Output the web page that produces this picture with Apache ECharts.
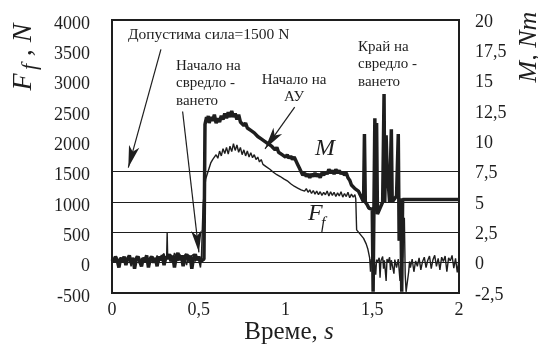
<!DOCTYPE html>
<html>
<head>
<meta charset="utf-8">
<script src="https://cdn.jsdelivr.net/npm/echarts@6/dist/echarts.min.js"></script>
<style>
  html, body { margin: 0; padding: 0; background: #fff; }
  #chart { width: 538px; height: 345px; }
</style>
</head>
<body>
<div id="chart"></div>
<script>
// time in s, force in N
const forceIdle = [[0, 40], [0.01, 80], [0.02, 10], [0.03, 60], [0.04, -40], [0.05, 90], [0.06, 30], [0.07, 70], [0.08, 0], [0.09, 100], [0.10, 50], [0.11, -60], [0.12, 80], [0.13, 20], [0.14, 110], [0.15, 40], [0.16, -20], [0.17, 70], [0.18, 90], [0.19, 10], [0.20, 60], [0.21, -50], [0.22, 100], [0.23, 30], [0.24, 80], [0.25, 40], [0.26, 120], [0.27, 0], [0.28, 90], [0.29, 60], [0.30, 150], [0.31, 20], [0.315, 110], [0.318, 500], [0.321, 90], [0.33, 70], [0.34, 130], [0.35, 40], [0.36, 160], [0.37, 90], [0.38, 30], [0.39, 140], [0.40, 80], [0.41, 120], [0.42, 50], [0.43, -40], [0.44, 130], [0.45, 90], [0.46, 60], [0.47, 140], [0.48, 20], [0.49, 100], [0.50, 40], [0.51, -80], [0.515, 60]]
const forceCut = [[0.52, 500], [0.525, 950], [0.53, 1100], [0.535, 1250], [0.54, 1380], [0.55, 1470], [0.56, 1560], [0.57, 1650], [0.58, 1700], [0.59, 1680], [0.60, 1780], [0.61, 1720], [0.62, 1840], [0.63, 1760], [0.64, 1880], [0.65, 1800], [0.66, 1900], [0.67, 1790], [0.68, 1920], [0.69, 1830], [0.70, 1960], [0.71, 1850], [0.72, 1940], [0.73, 1820], [0.74, 1900], [0.75, 1780], [0.76, 1860], [0.77, 1760], [0.78, 1840], [0.79, 1740], [0.80, 1810], [0.81, 1730], [0.82, 1780], [0.83, 1700], [0.84, 1740], [0.85, 1660], [0.86, 1700], [0.87, 1620], [0.88, 1650], [0.89, 1580], [0.90, 1600], [0.91, 1540], [0.92, 1570], [0.93, 1490], [0.94, 1520], [0.95, 1450], [0.96, 1480], [0.97, 1420], [0.98, 1440], [0.99, 1380], [1.00, 1400], [1.01, 1350], [1.02, 1370], [1.03, 1300], [1.04, 1330], [1.05, 1260], [1.06, 1290], [1.07, 1230], [1.08, 1260], [1.09, 1200], [1.10, 1230], [1.11, 1180], [1.12, 1220], [1.13, 1160], [1.14, 1200], [1.15, 1140], [1.16, 1190], [1.17, 1130], [1.18, 1180], [1.19, 1120], [1.20, 1170], [1.21, 1110], [1.22, 1160], [1.23, 1120], [1.24, 1180], [1.25, 1100], [1.26, 1170], [1.27, 1110], [1.28, 1160], [1.29, 1090], [1.30, 1150], [1.31, 1100], [1.32, 1170], [1.33, 1080], [1.34, 1140], [1.35, 1090], [1.36, 1160], [1.37, 1070], [1.38, 1130], [1.39, 1080], [1.40, 1120], [1.405, 1050]]
const forceExit = [[1.41, 540], [1.43, 470], [1.45, 400], [1.465, 310], [1.475, 220], [1.485, 80], [1.49, -150], [1.495, 60], [1.50, 20], [1.505, -60], [1.51, 90], [1.52, -200], [1.525, 50], [1.53, 10], [1.54, 80], [1.545, -250], [1.55, 30], [1.56, 100], [1.565, -100], [1.57, 40], [1.58, -300], [1.585, 60], [1.59, 0], [1.60, 90], [1.605, -120], [1.61, 40], [1.62, 70], [1.625, -180], [1.63, 50], [1.64, -80], [1.65, 60], [1.66, -300], [1.665, 30], [1.675, 90], [1.685, 740], [1.69, -200], [1.695, -480], [1.70, -450], [1.705, -480], [1.71, -150], [1.715, 20], [1.72, -80], [1.73, 60], [1.74, -150], [1.75, 30], [1.76, -60], [1.77, 80], [1.78, -120], [1.79, 20], [1.80, 90], [1.81, -80], [1.82, 40], [1.83, 110], [1.84, -100], [1.85, 50], [1.86, 120], [1.87, -60], [1.88, 70], [1.89, -120], [1.90, 90], [1.91, 20], [1.92, 110], [1.93, -150], [1.94, 80], [1.95, 30], [1.96, 120], [1.97, -90], [1.98, 70], [1.99, -160], [2.00, 60]]

// time in s, torque in Nm
const torqueIdle = [[0, 0.3], [0.01, 0.1], [0.02, 0.5], [0.03, 0.2], [0.04, -0.4], [0.05, 0.4], [0.06, 0.1], [0.07, 0.5], [0.08, -0.2], [0.09, 0.3], [0.10, 0.6], [0.11, 0.0], [0.12, 0.4], [0.13, -0.5], [0.14, 0.3], [0.15, 0.5], [0.16, 0.1], [0.17, -0.3], [0.18, 0.4], [0.19, 0.2], [0.20, 0.6], [0.21, -0.4], [0.22, 0.3], [0.23, 0.5], [0.24, 0.0], [0.25, 0.4], [0.26, -0.3], [0.27, 0.5], [0.28, 0.2], [0.29, 0.6], [0.30, -0.2], [0.31, 0.5], [0.32, 0.3], [0.33, 0.7], [0.34, 0.1], [0.35, 0.6], [0.36, -0.4], [0.37, 0.5], [0.38, 0.8], [0.39, 0.2], [0.40, 0.6], [0.41, -0.3], [0.42, 0.5], [0.43, 0.7], [0.44, 0.1], [0.45, 0.6], [0.46, -0.5], [0.47, 0.4], [0.48, 0.7], [0.49, 0.2], [0.50, 0.5], [0.51, 0.1], [0.53, 0.3]]
const torqueCut = [[0.536, 11.4], [0.545, 12.0], [0.55, 11.6], [0.555, 12.1], [0.56, 11.5], [0.57, 12.0], [0.58, 11.7], [0.59, 12.2], [0.60, 11.5], [0.61, 11.9], [0.62, 11.6], [0.63, 12.1], [0.64, 11.8], [0.65, 12.3], [0.66, 11.9], [0.67, 12.4], [0.68, 12.0], [0.69, 12.5], [0.70, 12.0], [0.71, 12.3], [0.72, 11.8], [0.73, 12.2], [0.74, 11.6], [0.75, 11.7], [0.76, 11.3], [0.77, 11.5], [0.78, 11.1], [0.79, 11.2], [0.80, 10.9], [0.81, 11.0], [0.82, 10.7], [0.83, 10.8], [0.84, 10.4], [0.85, 10.5], [0.86, 10.2], [0.87, 10.3], [0.88, 10.0], [0.89, 10.1], [0.90, 9.8], [0.91, 9.9], [0.92, 9.6], [0.93, 9.7], [0.94, 9.3], [0.95, 9.5], [0.96, 9.1], [0.97, 9.2], [0.98, 8.9], [0.99, 9.0], [1.00, 8.7], [1.01, 8.9], [1.02, 8.6], [1.03, 8.8], [1.04, 8.5], [1.05, 8.7], [1.06, 8.4], [1.07, 8.1], [1.08, 7.8], [1.09, 7.5], [1.10, 7.2], [1.11, 7.4], [1.12, 7.1], [1.13, 7.3], [1.14, 7.0], [1.15, 7.3], [1.16, 7.1], [1.17, 7.4], [1.18, 7.1], [1.19, 7.3], [1.20, 7.0], [1.21, 7.4], [1.22, 7.2], [1.23, 7.5], [1.24, 7.3], [1.25, 7.7], [1.26, 7.4], [1.27, 7.6], [1.28, 7.3], [1.29, 7.7], [1.30, 7.4], [1.31, 7.6], [1.32, 7.3], [1.33, 7.5], [1.34, 7.2], [1.35, 7.4], [1.36, 7.0], [1.37, 6.8], [1.38, 6.4], [1.39, 6.5], [1.40, 6.1], [1.41, 6.2], [1.42, 5.9], [1.43, 6.0], [1.44, 5.3], [1.45, 5.0]]
const torqueExit = [[1.455, 10.6], [1.46, 5.0], [1.47, 4.8], [1.48, 4.5], [1.49, 4.6], [1.50, 4.4], [1.505, -2.4], [1.51, 5.0], [1.515, 11.9], [1.52, 5.5], [1.525, 11.5], [1.53, 4.0], [1.545, 4.5], [1.56, 5.0], [1.568, 13.9], [1.572, 5.0], [1.58, 10.5], [1.585, 8.0], [1.60, 5.0], [1.61, 11.0], [1.615, 5.0], [1.64, 5.5], [1.65, 10.6], [1.655, 1.8], [1.665, 5.3], [1.67, -2.4], [1.675, 5.2], [1.75, 5.2], [1.85, 5.2], [2.0, 5.2]]

const gridValues = [0, 500, 1000, 1500]
// annotation arrows: [start, tip] in (s, N)
const arrowLines = [
  [[0.282, 3515], [0.094, 1568]],
  [[0.407, 2492], [0.501, 170]],
  [[1.053, 2563], [0.882, 1876]]
]

const ink = '#1e1e1e'
const serif = '"Liberation Serif", "Times New Roman", serif'
const comma = v => String(v).replace('.', ',')

const chart = echarts.init(document.getElementById('chart'))

chart.setOption({
  animation: false,
  backgroundColor: '#fff',
  grid: {
    left: 112,
    right: 79,
    top: 20,
    bottom: 52,
    show: true,
    borderColor: ink,
    borderWidth: 2
  },
  xAxis: {
    type: 'value',
    min: 0,
    max: 2,
    interval: 0.5,
    axisLine: { show: false },
    axisTick: { show: false },
    splitLine: { show: false },
    axisLabel: { color: ink, fontFamily: serif, fontSize: 18, margin: 8, formatter: comma }
  },
  yAxis: [{
    type: 'value',
    min: -500,
    max: 4000,
    interval: 500,
    axisLine: { show: false },
    axisTick: { show: false },
    splitLine: { show: false },
    // labels sit a little below their gridlines in the original
    axisLabel: { color: ink, fontFamily: serif, fontSize: 18, margin: 22, verticalAlign: 'top', lineHeight: 8, formatter: v => String(v) }
  }, {
    type: 'value',
    position: 'right',
    min: -2.5,
    max: 20,
    interval: 2.5,
    axisLine: { show: false },
    axisTick: { show: false },
    splitLine: { show: false },
    axisLabel: { color: ink, fontFamily: serif, fontSize: 18, margin: 16, verticalAlign: 'top', lineHeight: 4, formatter: comma }
  }],
  series: [{
    name: 'Ff',
    type: 'line',
    yAxisIndex: 0,
    showSymbol: false,
    data: forceIdle.concat(forceCut, forceExit),
    lineStyle: { color: ink, width: 1.4 },
    markLine: {
      silent: true,
      symbol: ['none', 'none'],
      label: { show: false },
      lineStyle: { color: ink, width: 1.2, type: 'solid' },
      data: gridValues.map(v => ({ yAxis: v })).concat(
        arrowLines.map(a => [
          { coord: a[0] },
          { coord: a[1], symbol: 'arrow', symbolSize: [8, 22] }
        ])
      )
    }
  }, {
    name: 'M',
    type: 'line',
    yAxisIndex: 1,
    showSymbol: false,
    data: torqueIdle.concat(torqueCut, torqueExit),
    lineStyle: { color: ink, width: 3.5 }
  }],
  graphic: [
    // left axis title
    { type: 'text', x: 24, y: 82, rotation: Math.PI / 2,
      style: { text: 'F', font: 'italic 28px ' + serif, fill: ink, align: 'center', verticalAlign: 'middle' } },
    { type: 'text', x: 30, y: 67, rotation: Math.PI / 2,
      style: { text: 'f', font: 'italic 22px ' + serif, fill: ink, align: 'center', verticalAlign: 'middle' } },
    { type: 'text', x: 24, y: 40, rotation: Math.PI / 2,
      style: { text: ', N', font: 'italic 28px ' + serif, fill: ink, align: 'center', verticalAlign: 'middle' } },
    // right axis title
    { type: 'text', x: 529, y: 47, rotation: Math.PI / 2,
      style: { text: 'M, Nm', font: 'italic 26px ' + serif, fill: ink, align: 'center', verticalAlign: 'middle' } },
    // x axis title
    { type: 'text', x: 289, y: 332,
      style: { text: '{a|Време, }{b|s}', fill: ink, align: 'center', verticalAlign: 'middle',
        rich: { a: { font: '25px ' + serif, fill: ink }, b: { font: 'italic 25px ' + serif, fill: ink } } } },
    // annotations
    { type: 'text', x: 128, y: 35,
      style: { text: 'Допустима сила=1500 N', font: '15.5px ' + serif, fill: ink, verticalAlign: 'middle' } },
    { type: 'text', x: 176, y: 57,
      style: { text: 'Начало на\nсвредло -\nването', font: '15px ' + serif, lineHeight: 17.5, fill: ink, verticalAlign: 'top' } },
    { type: 'text', x: 294, y: 72,
      style: { text: 'Начало на\nАУ', font: '15px ' + serif, lineHeight: 16.5, fill: ink, align: 'center', verticalAlign: 'top' } },
    { type: 'text', x: 358, y: 38,
      style: { text: 'Край на\nсвредло -\nването', font: '15px ' + serif, lineHeight: 17.6, fill: ink, verticalAlign: 'top' } },
    { type: 'text', x: 315, y: 149,
      style: { text: 'M', font: 'italic 24px ' + serif, fill: ink, verticalAlign: 'middle' } },
    { type: 'text', x: 308, y: 214,
      style: { text: 'F', font: 'italic 24px ' + serif, fill: ink, verticalAlign: 'middle' } },
    { type: 'text', x: 321, y: 224,
      style: { text: 'f', font: 'italic 16px ' + serif, fill: ink, verticalAlign: 'middle' } }
  ]
})
</script>
</body>
</html>
